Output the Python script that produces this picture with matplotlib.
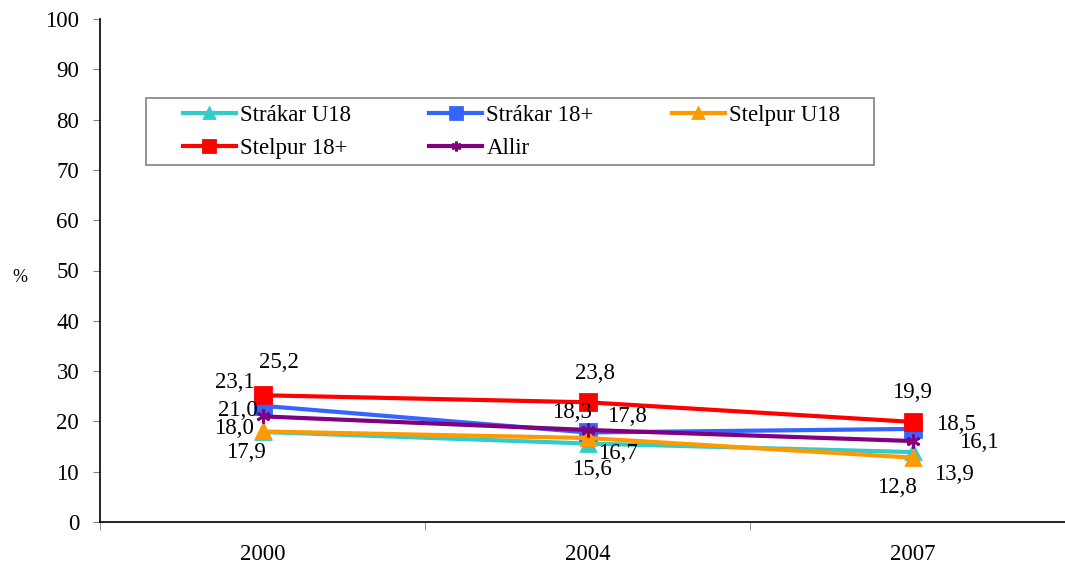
import matplotlib
matplotlib.use("Agg")
import matplotlib.pyplot as plt
from matplotlib.patches import Rectangle

# data
years = ["2000", "2004", "2007"]
straakar_u18 = [17.9, 15.6, 13.9]
straakar_18 = [23.1, 17.8, 18.5]
stelpur_u18 = [18.0, 16.7, 12.8]
stelpur_18 = [25.2, 23.8, 19.9]
allir = [21.0, 18.3, 16.1]

series_names = ["Strákar U18", "Strákar 18+", "Stelpur U18", "Stelpur 18+", "Allir"]
series_vals = [straakar_u18, straakar_18, stelpur_u18, stelpur_18, allir]
colors = ["#33CCCC", "#3366FF", "#FF9900", "#FF0000", "#800080"]
markers = ["^", "s", "^", "s", (6, 2, 0)]

# label offsets in pixels (dx, dy), per series and per year
label_offsets = [
    [(-17, -21), (4, -26), (41, -22)],
    [(-28, 23), (39, 16), (43, 4)],
    [(-29, 3), (30, -16), (-16, -30)],
    [(16, 33), (8, 29), (0, 29)],
    [(-25, 6), (-16, 17), (66, -1)],
]

plt.rcParams["font.family"] = ["Liberation Serif", "DejaVu Serif"]
FS = 16.5

W, H = 1065, 572
fig = plt.figure(figsize=(W / 100, H / 100), dpi=100)
ax = fig.add_axes([100 / W, 1 - 522 / H, 975 / W, 503 / H])

xs = [0.5, 1.5, 2.5]
handles = []
for name, vals, c, m, offs in zip(series_names, series_vals, colors, markers, label_offsets):
    ms = 12 if m == "s" else 10
    (h,) = ax.plot(xs, vals, color=c, lw=3, marker=m, markersize=ms,
                   markeredgecolor=c, markerfacecolor=c, mew=2, label=name,
                   clip_on=False)
    handles.append(h)
    for x, v, (dx, dy) in zip(xs, vals, offs):
        ax.annotate(f"{v:.1f}".replace(".", ","), (x, v), xytext=(dx, dy),
                    textcoords="offset pixels", ha="center", va="center", fontsize=FS)

ax.set_xlim(0, 3)
ax.set_ylim(0, 100)
ax.set_yticks(range(0, 101, 10))
ax.set_xticks(xs)
ax.set_xticklabels(years)
ax.set_xticks([0, 1, 2, 3], minor=True)
ax.tick_params(axis="x", which="major", length=0, pad=16, labelsize=FS)
ax.tick_params(axis="x", which="minor", length=6, color="#808080", direction="out")
ax.tick_params(axis="y", length=5, color="#808080", direction="out", labelsize=FS, pad=10)
for s in ["top", "right"]:
    ax.spines[s].set_visible(False)
ax.spines["left"].set_linewidth(1.2)
ax.spines["bottom"].set_linewidth(1.2)

fig.text(20 / W, 1 - 278 / H, "%", fontsize=13, ha="center", va="center")

# legend box drawn separately, legend itself without frame
fig.patches.append(Rectangle((146 / W, 1 - 165 / H), 728 / W, 67 / H,
                             transform=fig.transFigure, fill=False,
                             edgecolor="#808080", linewidth=1.2))
# order so that rows read like the reference
order = [0, 3, 1, 4, 2]
leg = fig.legend([handles[i] for i in order], [series_names[i] for i in order],
                 ncol=3, loc="center left", bbox_to_anchor=(183 / W, 1 - 132 / H),
                 borderaxespad=0, borderpad=0, fontsize=FS, handlelength=2.3,
                 handletextpad=0.2, columnspacing=3.4, labelspacing=0.5,
                 markerscale=0.7, frameon=False)

fig.savefig("out.png", dpi=100)
